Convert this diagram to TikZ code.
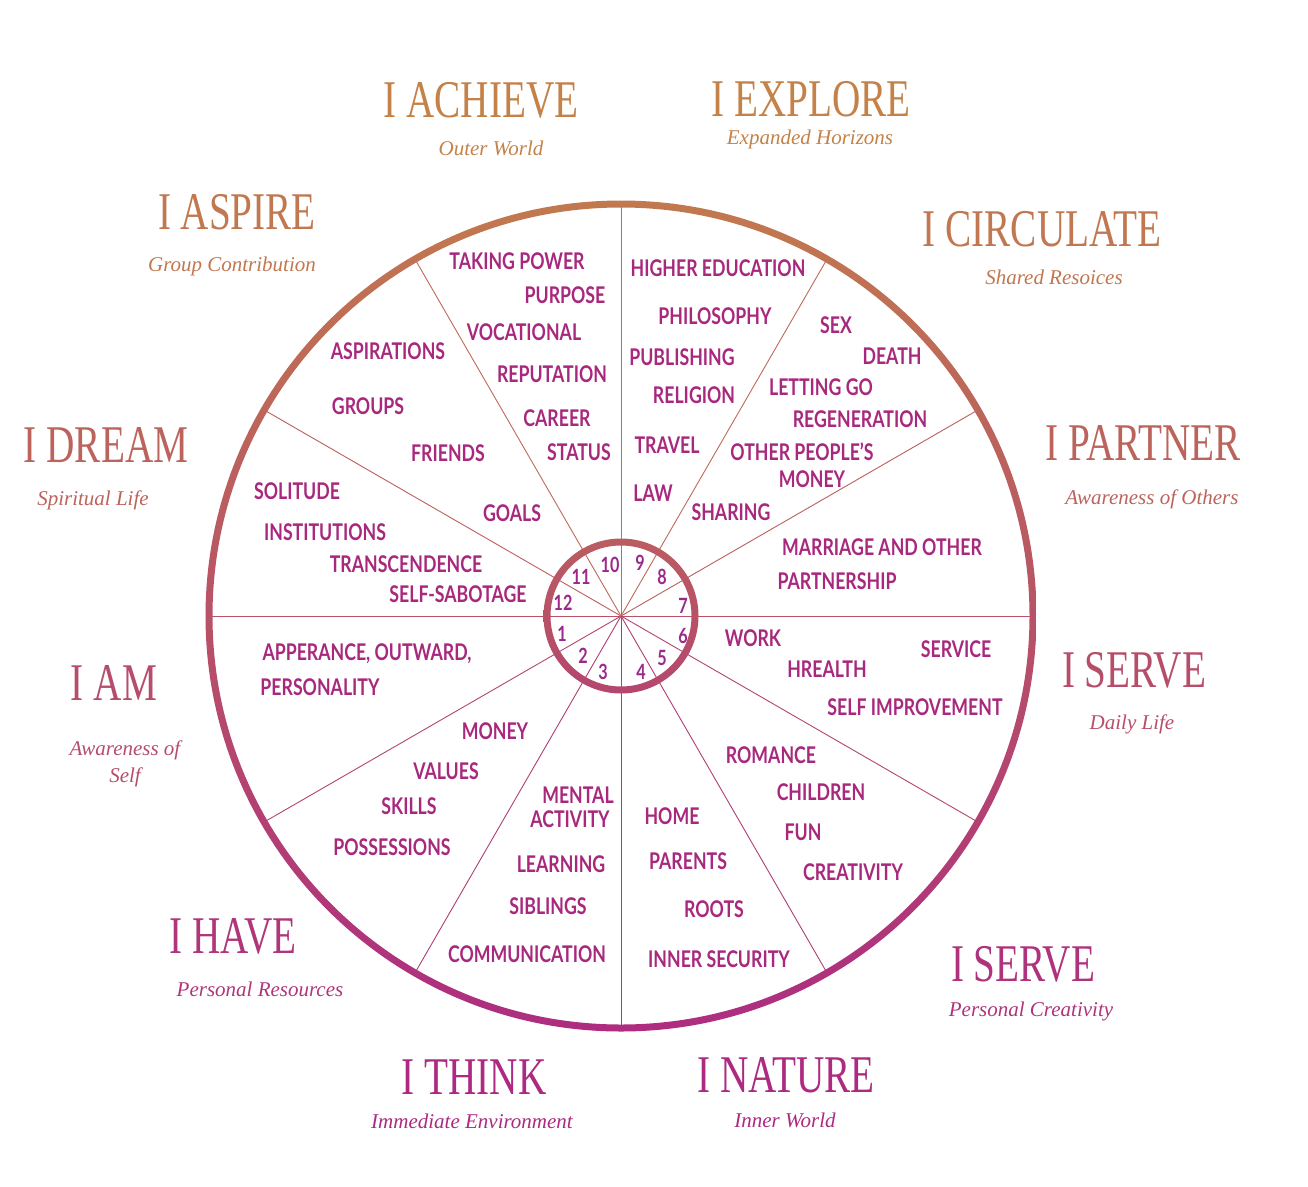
\documentclass[tikz,border=0pt]{standalone}
\usepackage{fontspec}
\setmainfont{Liberation Serif}
\newfontfamily\titlefont[FakeStretch=0.74]{Liberation Serif}
\newfontfamily\labelfont[FakeStretch=0.77]{Lato}
\usetikzlibrary{positioning}
\definecolor{wheeltop}{RGB}{196,130,72}
\definecolor{wheelbot}{RGB}{172,38,132}
\definecolor{labelmag}{RGB}{168,40,125}
\definecolor{numpurple}{RGB}{155,40,140}

\tikzset{
  house title/.style={font=\titlefont\fontsize{53}{53}\selectfont, inner sep=0pt},
  house sub/.style={font=\itshape\fontsize{21}{27}\selectfont, inner sep=0pt, align=center},
  lbl/.style={font=\labelfont\bfseries\fontsize{23}{23}\selectfont, text=labelmag, inner sep=0pt},
  num/.style={font=\labelfont\bfseries\fontsize{21}{21}\selectfont, text=numpurple, inner sep=0pt},
  spoke/.style={line width=0.9pt}
}

\begin{document}
\begin{tikzpicture}[x=1pt,y=-1pt]
 \fill[white] (0,0) rectangle (1308,1186);
 \useasboundingbox (0,0) rectangle (1308,1186);
 \coordinate (c) at (621,616);

 % spokes
 \foreach \a in {0,30,...,330}{
   \pgfmathtruncatemacro\pc{(616+290*sin(\a)-100)/10}
   \path (c) ++(\a:412) coordinate (s\a);
   \draw[spoke, draw=wheelbot!\pc!wheeltop] (c) -- (s\a);
 }
 % outer ring
 \path[top color=wheelbot!10!wheeltop, bottom color=wheelbot!93!wheeltop, even odd rule]
   (c) circle (415.5pt) (c) circle (408.5pt);
 % hub
 \path[top color=wheelbot!40!wheeltop, bottom color=wheelbot!65!wheeltop, even odd rule]
   (c) circle (77.5pt) (c) circle (70.5pt);

 % house numbers
 \foreach \n/\x/\y in {1/562/634, 2/583/656, 3/603/672, 4/641/672, 5/662/658, 6/683/636,
                      7/683/606, 8/662/577, 9/640/563, 10/610/565, 11/581/577, 12/563/603}
   \node[num] (n\n) at (\x,\y) {\n};

 % titles and subtitles
 \foreach \nm/\tx/\ty/\ttl/\sx/\sy/\sub in {
   achieve/481/100/I ACHIEVE/491/148/Outer World,
   explore/811/99/I EXPLORE/810/139/Expanded Horizons,
   aspire/237/212/I ASPIRE/232/266/Group Contribution,
   circulate/1042/229/I CIRCULATE/1054/277/Shared Resoices,
   dream/106/445/I DREAM/93/500/Spiritual Life,
   partner/1143/443/I PARTNER/1152/499/Awareness of Others,
   am/114/683/I AM/125/764/{Awareness of\\Self},
   serve/1134/670/I SERVE/1132/724/Daily Life,
   have/233/936/I HAVE/260/989/Personal Resources,
   create/1023/964/I SERVE/1031/1011/Personal Creativity,
   think/474/1077/I THINK/472/1121/Immediate Environment,
   nature/786/1075/I NATURE/785/1120/Inner World}{
   \pgfmathtruncatemacro\pc{max(0,min(100,(\ty-100)/10))}
   \node[house title, text=wheelbot!\pc!wheeltop] (t-\nm) at (\tx,\ty) {\ttl};
   \node[house sub, text=wheelbot!\pc!wheeltop] (st-\nm) at (\sx,\sy) {\sub};
 }

 % house keywords
 \foreach \nm/\x/\y/\txt in {
   takingpower/517/261/TAKING POWER, purpose/565/295/PURPOSE,
   vocational/524/332/VOCATIONAL, reputation/552/374/REPUTATION,
   career/557/418/CAREER, status/579/452/STATUS,
   highered/718/268/HIGHER EDUCATION, philosophy/715/316/PHILOSOPHY,
   publishing/682/357/PUBLISHING, religion/694/395/RELIGION,
   travel/667/445/TRAVEL, law/653/493/LAW,
   sex/836/325/SEX, death/892/356/DEATH, lettinggo/821/387/LETTING GO,
   regeneration/860/419/REGENERATION, otherpeople/802/452/OTHER PEOPLE’S,
   opmoney/812/479/MONEY, sharing/731/512/SHARING,
   aspirations/388/351/ASPIRATIONS, groups/368/406/GROUPS,
   friends/448/453/FRIENDS, goals/512/513/GOALS,
   solitude/297/491/SOLITUDE, institutions/325/532/INSTITUTIONS,
   transcendence/406/564/TRANSCENDENCE, selfsabotage/458/594/SELF-SABOTAGE,
   marriage/882/547/MARRIAGE AND OTHER, partnership/837/581/PARTNERSHIP,
   work/753/638/WORK, service/956/649/SERVICE, health/827/669/HREALTH,
   selfimprove/915/707/SELF IMPROVEMENT,
   apperance/367/654/{APPERANCE, OUTWARD,}, personality/320/687/PERSONALITY,
   money/495/731/MONEY, values/446/771/VALUES, skills/409/806/SKILLS,
   possessions/392/847/POSSESSIONS,
   mental/578/795/MENTAL, activity/570/819/ACTIVITY, learning/561/864/LEARNING,
   siblings/548/906/SIBLINGS, communication/527/954/COMMUNICATION,
   home/672/816/HOME, parents/688/861/PARENTS, roots/714/909/ROOTS,
   innersecurity/719/959/INNER SECURITY,
   romance/771/755/ROMANCE, children/821/792/CHILDREN, fun/803/832/FUN,
   creativity/853/872/CREATIVITY}
   \node[lbl] (k-\nm) at (\x,\y) {\txt};
\end{tikzpicture}
\end{document}
